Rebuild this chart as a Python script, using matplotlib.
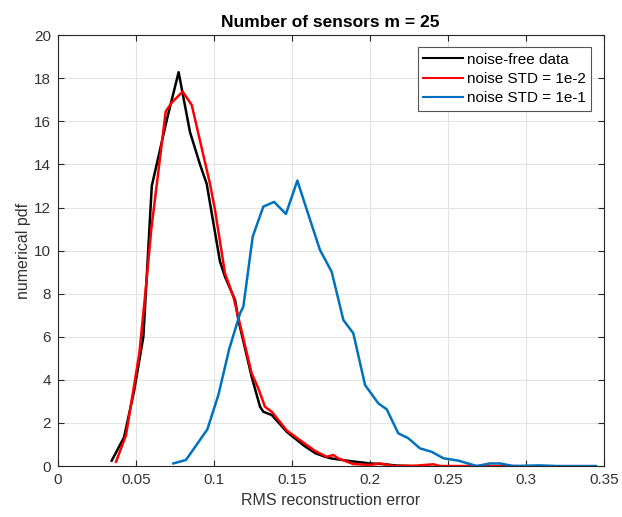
import matplotlib
matplotlib.use('Agg')
import matplotlib.pyplot as plt

plt.rcParams['font.family'] = ['Liberation Sans', 'DejaVu Sans']

# noise-free data
x_clean = [0.0346, 0.0425, 0.0490, 0.0549, 0.0603, 0.0699, 0.0775, 0.0848, 0.0912,
           0.0955, 0.1040, 0.1072, 0.1137, 0.1158, 0.1243, 0.1297, 0.1318, 0.1372,
           0.1468, 0.1574, 0.1650, 0.1713, 0.1755, 0.1874, 0.2002, 0.2087, 0.2173, 0.2250]
y_clean = [0.25, 1.33, 3.5, 6.0, 13.0, 16.06, 18.28, 15.5, 14.0,
           13.1, 9.5, 8.79, 7.7, 6.78, 4.15, 2.75, 2.52, 2.37,
           1.59, 0.97, 0.6, 0.43, 0.35, 0.23, 0.12, 0.09, 0.02, 0.0]

# noise STD = 1e-2
x_n2 = [0.0374, 0.0438, 0.0523, 0.0564, 0.0600, 0.0692, 0.0731, 0.0801, 0.0859,
        0.0976, 0.1008, 0.1072, 0.1126, 0.1158, 0.1243, 0.1286, 0.1329, 0.1372,
        0.1468, 0.1553, 0.1650, 0.1724, 0.1767, 0.1800, 0.1895, 0.2002, 0.2066,
        0.2150, 0.2300, 0.2408, 0.2450, 0.2700, 0.2940]
y_n2 = [0.2, 1.44, 5.23, 8.2, 11.0, 16.45, 16.87, 17.38, 16.76,
        13.1, 11.9, 8.95, 7.86, 6.9, 4.3, 3.6, 2.75, 2.52,
        1.65, 1.2, 0.7, 0.43, 0.51, 0.35, 0.09, 0.05, 0.12,
        0.0, 0.02, 0.08, 0.0, 0.0, 0.0]

# noise STD = 1e-1
x_n1 = [0.0741, 0.0822, 0.0959, 0.1030, 0.1100, 0.1169, 0.1190, 0.1250, 0.1318,
        0.1387, 0.1463, 0.1536, 0.1610, 0.1681, 0.1756, 0.1831, 0.1895, 0.1970,
        0.2055, 0.2109, 0.2183, 0.2247, 0.2322, 0.2397, 0.2472, 0.2568, 0.2686,
        0.2771, 0.2835, 0.2920, 0.3090, 0.3200, 0.3450]
y_n1 = [0.12, 0.28, 1.7, 3.3, 5.45, 7.09, 7.4, 10.65, 12.04,
        12.26, 11.7, 13.25, 11.6, 10.03, 9.02, 6.78, 6.16, 3.76,
        2.91, 2.63, 1.52, 1.29, 0.82, 0.66, 0.36, 0.25, 0.0,
        0.12, 0.12, 0.0, 0.03, 0.0, 0.0]

xticks = [0, 0.05, 0.1, 0.15, 0.2, 0.25, 0.3, 0.35]
xtick_labels = ['0', '0.05', '0.1', '0.15', '0.2', '0.25', '0.3', '0.35']
yticks = list(range(0, 21, 2))

fig = plt.figure(figsize=(6.22, 5.17), dpi=100)
ax = fig.add_axes([0.0928, 0.0986, 0.8778, 0.8334])

lw = 1.8
ax.plot(x_clean, y_clean, color='black', lw=lw, label='noise-free data')
ax.plot(x_n2, y_n2, color='#ff0000', lw=lw, label='noise STD = 1e-2')
ax.plot(x_n1, y_n1, color='#0072BD', lw=lw, label='noise STD = 1e-1')

ax.set_xlim(0, 0.35)
ax.set_ylim(0, 20)
ax.set_xticks(xticks)
ax.set_xticklabels(xtick_labels)
ax.set_yticks(yticks)
ax.grid(True, color='#e3e3e3', lw=0.8)
ax.set_axisbelow(True)
ax.tick_params(direction='in', top=True, right=True, length=4, width=0.8,
               labelsize=11, colors='#262626', labelcolor='#333333', pad=5)
for s in ax.spines.values():
    s.set_color('#262626')
    s.set_linewidth(0.8)

ax.set_xlabel('RMS reconstruction error', fontsize=11.5, color='#333333')
ax.set_ylabel('numerical pdf', fontsize=11.5, color='#333333', labelpad=2)
ax.set_title('Number of sensors m = 25', fontsize=12.5, fontweight='bold', pad=6)

leg = ax.legend(loc='upper right', fontsize=11, fancybox=False, framealpha=1,
                edgecolor='#555555', handlelength=2.6, handletextpad=0.3,
                borderpad=0.35, labelspacing=0.35, borderaxespad=0.8)
leg.get_frame().set_linewidth(0.8)
for h in leg.get_lines():
    h.set_linewidth(1.5)

fig.savefig('out.png', dpi=100)
